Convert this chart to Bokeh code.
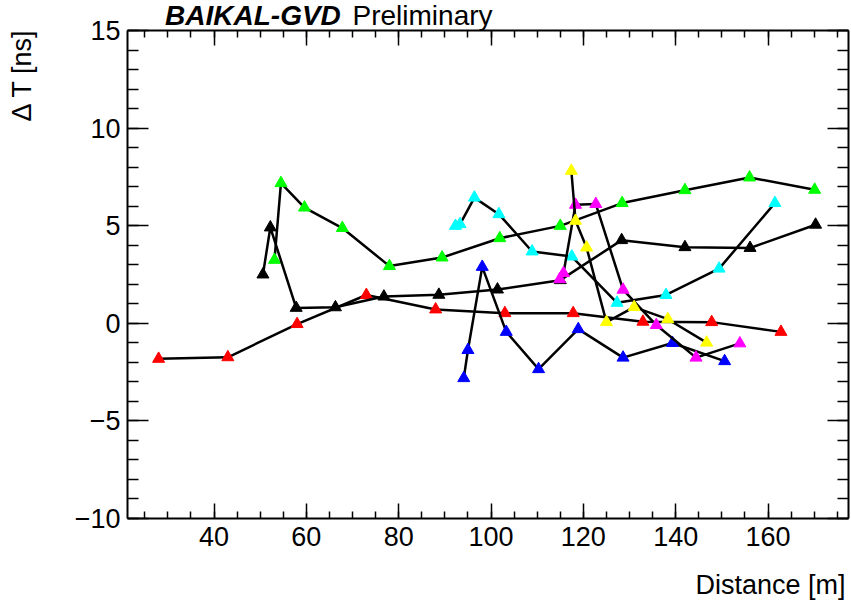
import math
from bokeh.plotting import figure
from bokeh.models import Range1d, LinearAxis, SingleIntervalTicker, Label
from bokeh.embed import file_html
from bokeh.resources import INLINE

# ---- data ----
red_x = [28.0, 43.0, 58.0, 73.0, 88.0, 103.0, 117.8, 132.9, 147.8, 162.8]
red_y = [-1.82, -1.74, -0.04, 1.45, 0.71, 0.52, 0.52, 0.08, 0.06, -0.44]

green_x = [53.1, 54.5, 59.6, 67.8, 78.0, 89.4, 101.9, 115.0, 128.4, 142.0, 156.0, 170.1]
green_y = [3.25, 7.18, 5.93, 4.88, 2.93, 3.37, 4.36, 4.99, 6.16, 6.82, 7.47, 6.84]

black_x = [50.6, 52.2, 57.8, 66.3, 76.8, 88.7, 101.4, 115.0, 128.3, 142.0, 156.1, 170.3]
black_y = [2.50, 4.91, 0.79, 0.82, 1.37, 1.46, 1.73, 2.21, 4.26, 3.90, 3.86, 5.05]

cyan_x = [92.3, 93.3, 96.4, 101.7, 108.9, 117.5, 127.3, 137.9, 149.4, 161.5]
cyan_y = [4.99, 5.08, 6.44, 5.59, 3.68, 3.42, 1.05, 1.45, 2.80, 6.16]

blue_x = [94.1, 95.0, 98.1, 103.3, 110.3, 118.9, 128.6, 139.3, 150.6]
blue_y = [-2.81, -1.37, 2.89, -0.44, -2.35, -0.30, -1.76, -1.01, -1.94]

magenta_x = [114.9, 115.7, 118.3, 122.7, 128.6, 135.8, 144.4, 153.9]
magenta_y = [2.26, 2.57, 6.07, 6.11, 1.72, -0.09, -1.76, -1.03]

yellow_x = [117.4, 118.3, 120.7, 125.0, 131.0, 138.3, 146.7]
yellow_y = [7.81, 5.25, 3.88, 0.06, 0.83, 0.21, -0.99]

series = [
    (red_x, red_y, "#ff0000"),
    (green_x, green_y, "#00ff00"),
    (black_x, black_y, "#000000"),
    (cyan_x, cyan_y, "#00ffff"),
    (blue_x, blue_y, "#0000ff"),
    (magenta_x, magenta_y, "#ff00ff"),
    (yellow_x, yellow_y, "#ffff00"),
]

# axis frame (ROOT-style box) and ticks
x_frame = (21.26, 177.43)
y_frame = (-10.0, 15.0)
x_tick_step = 20
y_tick_step = 5
y_label_overrides = {-10: "\u221210", -5: "\u22125"}
x_title = "Distance [m]"
y_title = "\u0394 T [ns]"
title_bold = "BAIKAL-GVD"
title_plain = "Preliminary"

FONT = "Liberation Sans"

# the Bokeh frame covers the whole canvas; the boxed axes sit at fixed locations
p = figure(width=851, height=608,
           x_range=Range1d(-6.245, 178.08), y_range=Range1d(-14.611, 16.537),
           output_backend="svg", toolbar_location=None,
           x_axis_type=None, y_axis_type=None,
           min_border_left=0, min_border_right=0,
           min_border_top=0, min_border_bottom=0)
p.outline_line_color = None
p.background_fill_color = "white"
p.border_fill_color = "white"
p.title.visible = False


def make_axis(is_x, labels, loc):
    if is_x:
        ticker = SingleIntervalTicker(interval=x_tick_step, num_minor_ticks=4)
        tin, mtin = 15, 7
        bounds = x_frame
    else:
        ticker = SingleIntervalTicker(interval=y_tick_step, num_minor_ticks=5)
        tin, mtin = 21, 11
        bounds = y_frame
    ax = LinearAxis(ticker=ticker, fixed_location=loc, bounds=bounds,
                    axis_line_color="black", axis_line_width=2,
                    major_tick_in=tin, major_tick_out=0,
                    minor_tick_in=mtin, minor_tick_out=0,
                    major_tick_line_color="black", minor_tick_line_color="black",
                    major_tick_line_width=1.5, minor_tick_line_width=1.5,
                    major_label_text_font=FONT)
    if labels:
        ax.major_label_text_color = "black"
        ax.major_label_text_font_size = "27px"
        ax.major_label_standoff = 9 if is_x else 7
        if not is_x:
            ax.major_label_overrides = y_label_overrides
    else:
        ax.major_label_text_color = None
        ax.major_label_text_font_size = "1px"
        ax.major_label_standoff = 0
    return ax


p.add_layout(make_axis(True, True, y_frame[0]), "below")
p.add_layout(make_axis(True, False, y_frame[1]), "above")
p.add_layout(make_axis(False, True, x_frame[0]), "left")
p.add_layout(make_axis(False, False, x_frame[1]), "right")

for xs, ys, c in series:
    p.line(xs, ys, line_color="black", line_width=2.5)
    p.scatter(xs, ys, marker="triangle", size=12, fill_color=c, line_color=c)

p.add_layout(Label(x=29.4, y=15.78, text=title_bold, text_font=FONT,
                   text_font_style="bold italic", text_font_size="28px",
                   text_baseline="alphabetic", text_color="black"))
p.add_layout(Label(x=70.0, y=15.78, text=title_plain, text_font=FONT,
                   text_font_size="28px", text_baseline="alphabetic",
                   text_color="black"))
p.add_layout(Label(x=-1.48, y=15.103, text=y_title, text_font=FONT,
                   text_font_size="27px", angle=math.pi / 2,
                   text_align="right", text_baseline="alphabetic",
                   text_color="black"))
p.add_layout(Label(x=176.78, y=-13.41, text=x_title, text_font=FONT,
                   text_font_size="27px", text_align="right",
                   text_baseline="alphabetic", text_color="black"))

open("out.html", "w").write(file_html(p, INLINE))
